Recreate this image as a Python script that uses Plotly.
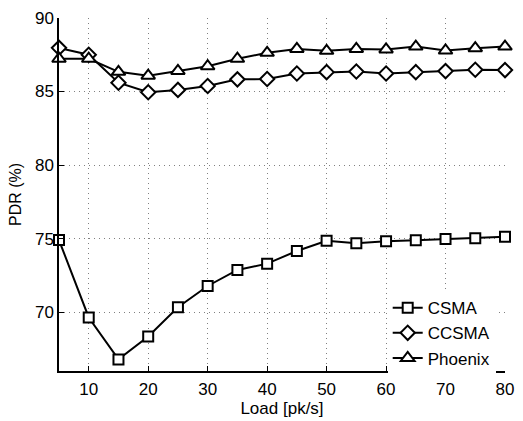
import plotly.graph_objects as go

load = [5, 10, 15, 20, 25, 30, 35, 40, 45, 50, 55, 60, 65, 70, 75, 80]
csma = [74.9, 69.64, 66.79, 68.35, 70.33, 71.78, 72.87, 73.3, 74.16, 74.85, 74.69, 74.82, 74.89, 74.98, 75.02, 75.13]
ccsma = [87.97, 87.5, 85.6, 84.95, 85.11, 85.38, 85.83, 85.85, 86.23, 86.32, 86.36, 86.23, 86.32, 86.39, 86.48, 86.46]
phoenix = [87.23, 87.23, 86.34, 86.08, 86.4, 86.72, 87.23, 87.63, 87.9, 87.77, 87.9, 87.86, 88.06, 87.79, 87.95, 88.06]

x_ticks = [10, 20, 30, 40, 50, 60, 70, 80]
y_ticks = [70, 75, 80, 85, 90]

FONT = "Liberation Sans, Arial, sans-serif"

fig = go.Figure()
series = [
    ("CSMA", csma, "square", 10),
    ("CCSMA", ccsma, "diamond", 11),
    ("Phoenix", phoenix, "triangle-up", 12),
]
for name, vals, sym, sz in series:
    fig.add_trace(go.Scatter(
        x=load, y=vals, name=name, mode="lines+markers",
        line=dict(color="black", width=2),
        marker=dict(symbol=sym, size=sz, color="white",
                    line=dict(color="black", width=2)),
        cliponaxis=False,
    ))

axis_common = dict(
    showline=True, linecolor="black", linewidth=1.5,
    ticks="inside", ticklen=5, tickcolor="black", tickwidth=1,
    showgrid=True, gridcolor="#808080", gridwidth=1, griddash="1px,4px",
    zeroline=False, mirror=False, ticklabeloverflow="allow",
    tickfont=dict(family=FONT, size=17, color="black"),
)

fig.update_layout(
    width=523, height=421,
    margin=dict(l=59, r=9, t=15, b=47),
    paper_bgcolor="white", plot_bgcolor="white",
    font=dict(family=FONT, size=17, color="black"),
    xaxis=dict(range=[5, 80], tickvals=x_ticks, ticklabelstandoff=2,
               title=dict(text="Load [pk/s]", font=dict(family=FONT, size=17), standoff=1),
               **axis_common),
    yaxis=dict(range=[66, 90], tickvals=y_ticks,
               title=dict(text="PDR (%)", font=dict(family=FONT, size=16), standoff=9),
               **axis_common),
    legend=dict(x=0.737, y=0.229, xanchor="left", yanchor="top",
                bgcolor="white", borderwidth=0,
                font=dict(family=FONT, size=17, color="black"),
                tracegroupgap=0, itemwidth=30),
    showlegend=True,
)

fig.write_html("out.html")
